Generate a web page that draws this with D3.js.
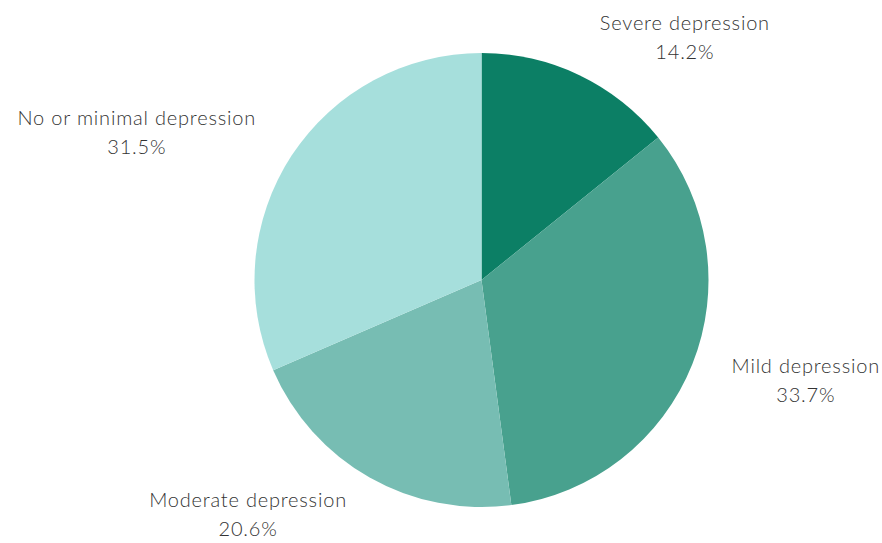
<!DOCTYPE html>
<html>
<head>
<meta charset="utf-8">
<script src="https://cdn.jsdelivr.net/npm/d3@7"></script>
<style>
body{margin:0;background:#fff;}
text{font-family:Lato,"Open Sans",sans-serif;font-weight:300;fill:#333;letter-spacing:0.8px;}
</style>
</head>
<body>
<svg id="chart" width="882" height="543"></svg>
<script>
//data---------------------------------------------------------
var categories=["Severe depression","Mild depression","Moderate depression","No or minimal depression"];
var values=[14.2,33.7,20.6,31.5];
var colors=["#0c7f65","#48a18e","#77bdb3","#a6dfdc"];

//draws the pie------------------------------------------------
function drawPie(){
var svg=d3.select("#chart");
var cx=481.5, cy=280, r=227;

var data=categories.map(function(c,i){return {name:c,value:values[i],color:colors[i]};});

var pie=d3.pie()
	.sort(null)
	.value(function(d){return d.value;});

var arc=d3.arc()
	.innerRadius(0)
	.outerRadius(r);

var g=svg.append("g")
	.attr("transform","translate("+cx+","+cy+")");

g.selectAll("path")
	.data(pie(data))
	.enter()
	.append("path")
	.attr("d",arc)
	.style("fill",function(d){return d.data.color;});

//labels sit outside the slice on its middle angle
var labels=g.selectAll("g.label")
	.data(pie(data))
	.enter()
	.append("g")
	.attr("class","label");

labels.each(function(d){
	var lab=d3.select(this);
	var t1=lab.append("text")
		.attr("text-anchor","middle")
		.attr("y",-7)
		.style("font-size","20px")
		.text(d.data.name);
	var t2=lab.append("text")
		.attr("text-anchor","middle")
		.attr("y",22)
		.style("font-size","20px")
		.text(d3.format(".1f")(d.data.value)+"%");
	var w=Math.max(t1.node().getComputedTextLength(),t2.node().getComputedTextLength());
	var a=(d.startAngle+d.endAngle)/2;
	var px=Math.sin(a)*(r+22);
	var py=-Math.cos(a)*(r+42);
	var gap=4+16*Math.abs(Math.sin(a));
	var x=Math.sin(a)>=0 ? px+gap+w/2 : px-gap-w/2;
	lab.attr("transform","translate("+x+","+py+")");
});
}

window.onload=drawPie;
</script>
</body>
</html>
